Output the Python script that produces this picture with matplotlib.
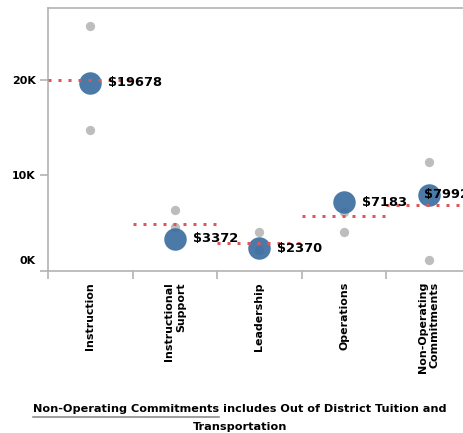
import matplotlib
matplotlib.use("Agg")
import matplotlib.pyplot as plt
from matplotlib.lines import Line2D
import matplotlib.transforms as mtrans

plt.rcParams['font.family'] = ['DejaVu Sans']

# ---- data ----
categories = ["Instruction", "Instructional\nSupport", "Leadership", "Operations",
              "Non-Operating\nCommitments"]
district_values = [19678, 3372, 2370, 7183, 7992]
peer_high = [25600, 6370, 4100, 6130, 11360]
peer_low = [14730, 4630, 2200, 4110, 1150]
benchmark = [20000, 4880, 2900, 5750, 6850]
value_labels = ["$19678", "$3372", "$2370", "$7183", "$7992"]
y_ticks = [0, 10000, 20000]
y_tick_labels = ["0K", "10K", "20K"]
footnote_under = "Non-Operating Commitments"
footnote_rest = " includes Out of District Tuition and"
footnote_line2 = "Transportation"

W, H = 464, 433
DPI = 100
fig = plt.figure(figsize=(W / DPI, H / DPI), dpi=DPI)
px = 72.0 / DPI  # points per pixel

band = 423 / len(categories)
ax_right_px = 520
ax = fig.add_axes([48 / W, (H - 271) / H, (ax_right_px - 48) / W, 263 / H])
ax.set_xlim(-0.5, -0.5 + (ax_right_px - 48) / band)
ax.set_ylim(0, 27480)

axis_col = "#b3b3b3"
for s in ["left", "bottom", "top", "right"]:
    ax.spines[s].set_color(axis_col)
    ax.spines[s].set_linewidth(1.2)
ax.spines["right"].set_visible(False)

xs = list(range(len(categories)))

# grey peer dots
ax.scatter(xs, peer_high, s=(9.3 * px) ** 2, color="#bdbdbd", zorder=2, linewidths=0)
ax.scatter(xs, peer_low, s=(9.3 * px) ** 2, color="#bdbdbd", zorder=2, linewidths=0)
# blue district dots
ax.scatter(xs, district_values, s=(22.5 * px) ** 2, color="#386c9f", alpha=0.9,
           zorder=3, linewidths=0)
# red dotted benchmark lines
lw = 3 * px
for i, b in enumerate(benchmark):
    ln = Line2D([i - 0.5, i + 0.5], [b, b], color="#e05555", lw=lw,
                linestyle=(0, (1, 7 / 3)), dash_capstyle="butt", zorder=4)
    ax.add_line(ln)

# value labels
offsets_px = [18, 18, 18, 18, -5]
for i, (v, lab) in enumerate(zip(district_values, value_labels)):
    ax.annotate(lab, (i, v), xytext=(offsets_px[i] * px, 0), textcoords="offset points",
                ha="left", va="center", fontsize=13 * px, fontweight="bold",
                color="black", zorder=5)

# y axis
ax.set_yticks(y_ticks)
ax.set_yticklabels(y_tick_labels, fontsize=11 * px, fontweight="bold")
ax.tick_params(axis="y", length=8 * px, width=1.2, color=axis_col, pad=4 * px)
ylabs = ax.get_yticklabels()
ylabs[0].set_va("bottom")
ylabs[0].set_transform(ylabs[0].get_transform() +
                       mtrans.ScaledTranslation(0, 5 / DPI, fig.dpi_scale_trans))

# x axis
ax.set_xticks(xs)
ax.set_xticklabels(categories, rotation=90, fontsize=11 * px, fontweight="bold",
                   linespacing=1.25)
for t in ax.get_xticklabels():
    t.set_multialignment("right")
ax.tick_params(axis="x", which="major", length=0, pad=11 * px)
ax.set_xticks([i - 0.5 for i in range(len(categories) + 1)], minor=True)
ax.tick_params(axis="x", which="minor", length=8 * px, width=1.2, color=axis_col)

# footnote
fs_foot = 11.2 * px
y1 = 1 - 409 / H
t1 = fig.text(240 / W, y1, footnote_under + footnote_rest, ha="center", va="center",
              fontsize=fs_foot, fontweight="bold")
fig.text(240 / W, 1 - 427 / H, footnote_line2, ha="center", va="center",
         fontsize=fs_foot, fontweight="bold")
fig.canvas.draw()
r = fig.canvas.get_renderer()
bb = t1.get_window_extent(r)
tmp = fig.text(0, 0, footnote_under, fontsize=fs_foot, fontweight="bold")
wu = tmp.get_window_extent(r).width
tmp.remove()
uy = (H - 417) / H
fig.add_artist(Line2D([bb.x0 / W, (bb.x0 + wu) / W], [uy, uy], color="#888888",
                      lw=1.6 * px, transform=fig.transFigure))

fig.savefig("out.png", dpi=DPI)
